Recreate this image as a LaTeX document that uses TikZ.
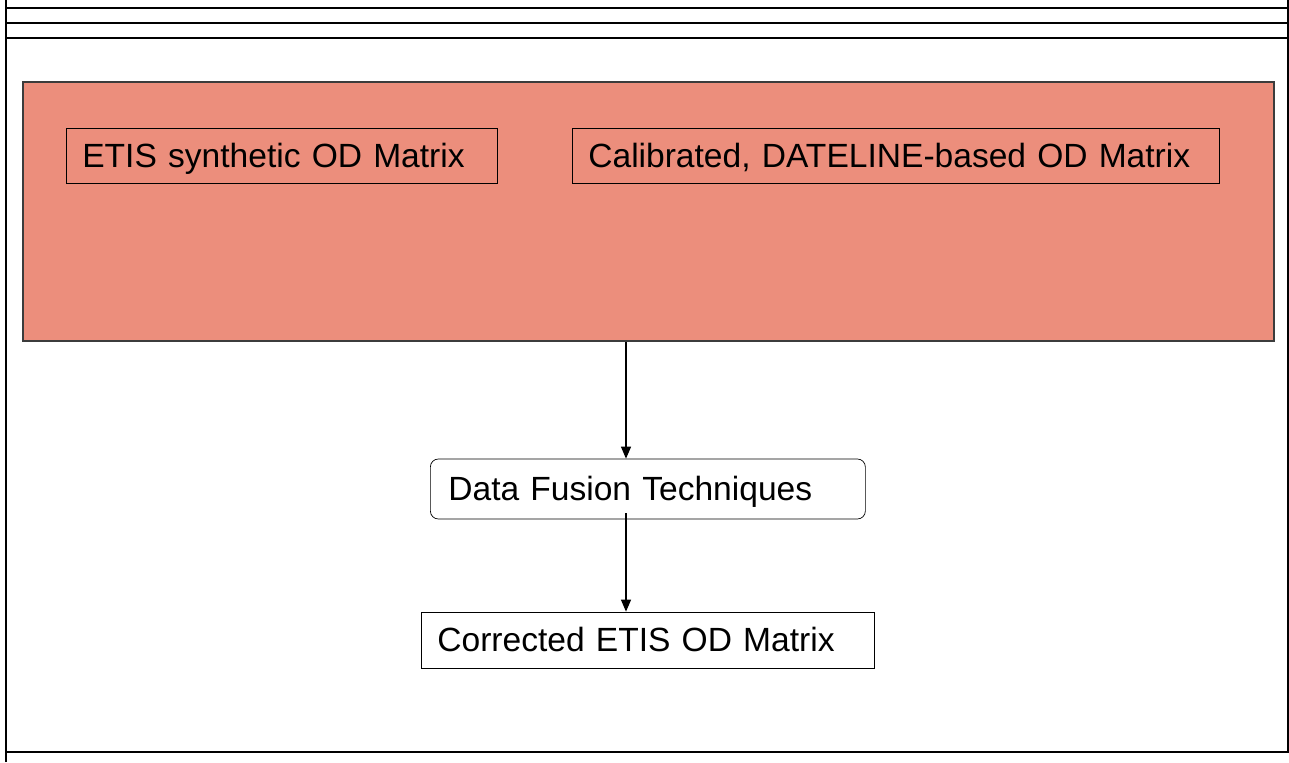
\documentclass[tikz,border=0pt]{standalone}
\usepackage{fontspec}
\setmainfont{Liberation Sans}
\usetikzlibrary{arrows.meta}
\definecolor{salmon}{HTML}{EC8E7C}
\definecolor{panelline}{HTML}{3C3C3C}
\tikzset{
	odbox/.style={draw, anchor=west, inner xsep=0.32cm, inner ysep=0pt, text height=0.47cm, text depth=0pt, minimum height=1.1cm, align=left, font=\fontsize{19.1}{22}\selectfont},
	frame/.style={line width=0.8pt},
	flow/.style={line width=0.7pt, -{Triangle[length=0.24cm,width=0.2cm]}}
}
\begin{document}
\begin{tikzpicture}
	\useasboundingbox (0,0) rectangle (25.78,15.24);
%	\draw[style=help lines] (0,0) grid (25,15);
	%Text coordinate
	\coordinate (etispos) at (1.32,12.13) ;
	\coordinate (datelinepos) at (11.44,12.13) ;
	\coordinate (fusionpos) at (8.60,5.46) ;
	\coordinate (correctedpos) at (8.42,2.44) ;
	\coordinate (axis) at (12.52,0) ;

	%Frame
	\draw[frame] (0.12,0)--(0.12,15.24);%left
	\draw[frame] (25.76,0.20)--(25.76,15.24);%right
	\draw[frame] (0.12,15.08)--(25.78,15.08);
	\draw[frame] (0.12,14.78)--(25.78,14.78);
	\draw[frame] (0.12,14.48)--(25.78,14.48);
	\draw[frame] (0.12,0.20)--(25.78,0.20);%bottom

	%Panel
	\node[draw=panelline, line width=1.1pt, fill=salmon, anchor=south west, inner sep=0pt, minimum width=25.02cm, minimum height=5.18cm] (panel) at (0.44,8.40) {};

	%Text
	\node[odbox, text width=7.98cm] (etis) at (etispos) {ETIS synthetic OD Matrix};
	\node[odbox, text width=12.30cm] (dateline) at (datelinepos) {Calibrated, DATELINE-based OD Matrix};
	\node[odbox, fill=white, rounded corners=0.16cm, inner xsep=0.36cm, text width=7.98cm, minimum height=1.2cm] (fusion) at (fusionpos) {Data Fusion Techniques};
	\node[odbox, fill=white, text width=8.42cm, minimum height=1.12cm] (corrected) at (correctedpos) {Corrected ETIS OD Matrix};

	%Lines
	\draw[flow] (panel.south -| axis)--(fusion.north -| axis);%to fusion
	\draw[flow] ([yshift=0.12cm]fusion.south -| axis)--(corrected.north -| axis);%to corrected
\end{tikzpicture}
\end{document}
